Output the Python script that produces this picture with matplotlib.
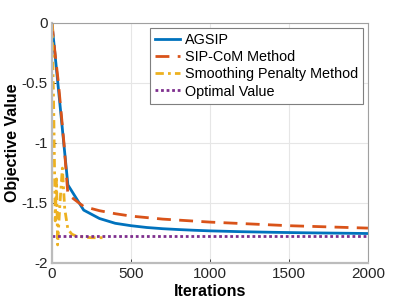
import matplotlib.pyplot as plt

plt.rcParams['font.family'] = ['Liberation Sans', 'DejaVu Sans']

# AGSIP
agsip_x = [0, 10, 100, 200, 300, 400, 500, 600, 700, 800, 900, 1000,
           1200, 1400, 1600, 1800, 2000]
agsip_y = [-0.02, -0.15, -1.35, -1.56, -1.63, -1.67, -1.69, -1.705, -1.715,
           -1.722, -1.728, -1.733, -1.740, -1.745, -1.749, -1.752, -1.755]

# SIP-CoM
sip_x = [0, 10, 40, 75, 100, 200, 300, 400, 500, 700, 1000, 1250, 1500,
         1750, 2000]
sip_y = [0.0, -0.15, -0.5, -1.0, -1.43, -1.53, -1.565, -1.59, -1.61, -1.635,
         -1.66, -1.675, -1.69, -1.70, -1.71]

# Smoothing Penalty
sp_x = [0, 10, 20, 28, 35, 50, 65, 80, 100, 125, 150, 200, 250, 300, 340]
sp_y = [0.0, -0.7, -1.65, -1.3, -1.85, -1.5, -1.21, -1.55, -1.72, -1.76,
        -1.775, -1.785, -1.79, -1.79, -1.79]

# Optimal
opt_x = [0, 2000]
opt_y = [-1.775, -1.775]

fig = plt.figure(figsize=(4.07, 3.05), dpi=100)
ax = fig.add_axes([0.128, 0.138, 0.776, 0.787])

ax.plot(agsip_x, agsip_y, color='#0072BD', lw=2.0, label='AGSIP')
ax.plot(sip_x, sip_y, color='#D95319', lw=2.0, ls=(0, (5, 3)),
        label='SIP-CoM Method')
ax.plot(sp_x, sp_y, color='#EDB120', lw=2.0, ls=(0, (3, 1.5, 1, 1.5)),
        label='Smoothing Penalty Method')
ax.plot(opt_x, opt_y, color='#7E2F8E', lw=2.0, ls=(0, (1, 1)),
        label='Optimal Value')

ax.set_xlim(0, 2000)
ax.set_ylim(-2, 0)
ax.set_xticks([0, 500, 1000, 1500, 2000])
ax.set_yticks([-2, -1.5, -1, -0.5, 0])
ax.set_yticklabels(['-2', '-1.5', '-1', '-0.5', '0'])
ax.grid(True, color='#e6e6e6', lw=0.8)
ax.set_axisbelow(True)
ax.tick_params(direction='in', length=3, labelsize=11, colors='#262626',
               width=0.6, pad=3)
for s in ['top', 'right']:
    ax.spines[s].set_color('#a0a0a0')
    ax.spines[s].set_linewidth(0.8)
for s in ['left', 'bottom']:
    ax.spines[s].set_color('#bcbcbc')
    ax.spines[s].set_linewidth(1.6)

ax.set_xlabel('Iterations', fontsize=11.5, fontweight='bold', labelpad=2)
ax.set_ylabel('Objective Value', fontsize=11.5, fontweight='bold', labelpad=1.5)

leg = ax.legend(loc='upper right', fontsize=10.4, handlelength=1.75,
                handletextpad=0.3, borderpad=0.35, labelspacing=0.22,
                fancybox=False, framealpha=1, borderaxespad=0.35)
leg.get_frame().set_edgecolor('#7f7f7f')
leg.get_frame().set_linewidth(0.8)

fig.savefig('out.png', dpi=100)
